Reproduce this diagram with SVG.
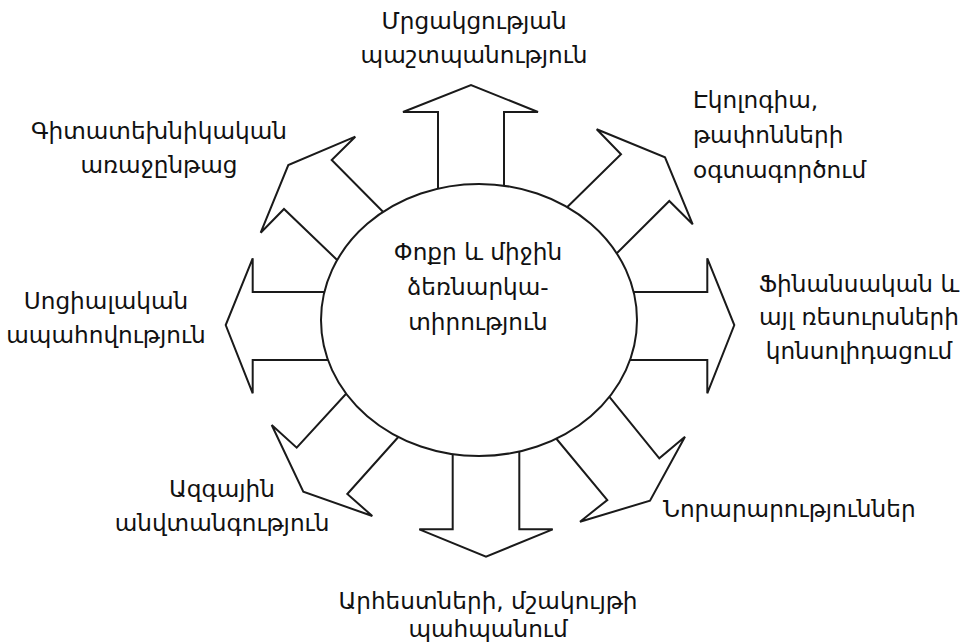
<svg xmlns="http://www.w3.org/2000/svg" width="962" height="644" viewBox="0 0 962 644">
<style>
.arrow{fill:#fff;stroke:#1a1a1a;stroke-width:2;stroke-linejoin:miter}
.hub{fill:#fff;stroke:#1a1a1a;stroke-width:2}
text{font-family:"DejaVu Sans","Noto Sans",sans-serif;font-size:23.2px;fill:#111}
.c{text-anchor:middle}
</style>
<rect width="962" height="644" fill="#fff"/>
<g id="connectors">
<polygon class="arrow" points="438,205 438,112 403,112 471,85 538,112 504,112 504,205"/>
<polygon class="arrow" points="404,233 331.7,160 355.3,136.7 288.3,165 260.7,232.7 284,209 358,280"/>
<polygon class="arrow" points="548,226 621,154.3 596.7,129.3 665,157.3 692.7,224.3 669.3,201 599,271"/>
<polygon class="arrow" points="345,292 252.7,292 252.7,258.3 225.7,325 252.7,393.3 252.7,360 345,360"/>
<polygon class="arrow" points="615,292 707.3,292 707.3,258.3 734.3,325 707.3,393.3 707.3,360 615,360"/>
<polygon class="arrow" points="367,371 296.7,447.7 271.7,425 303.3,491.7 372.3,516 347.3,494 418,415"/>
<polygon class="arrow" points="452.7,435 452.7,529.3 419.3,529.3 486,556.7 552.7,529.3 519.3,529.3 519.3,435"/>
<polygon class="arrow" points="540,419 607.3,500 580,521.7 650,500.7 685,436.7 659.3,458.3 595,379"/>
</g>
<g id="center">
<ellipse class="hub" cx="479" cy="320" rx="158" ry="136"/>
<text class="c" x="478" y="260">Փոքր և միջին</text>
<text class="c" x="478" y="295">ձեռնարկա-</text>
<text class="c" x="478" y="330">տիրություն</text>
</g>
<g id="n-top">
<text class="c" x="474" y="29">Մրցակցության</text>
<text class="c" x="474" y="63">պաշտպանություն</text>
</g>
<g id="n-topright">
<text x="693" y="108">Էկոլոգիա,</text>
<text x="693" y="143">թափոնների</text>
<text x="693" y="178">օգտագործում</text>
</g>
<g id="n-topleft">
<text class="c" x="159" y="139">Գիտատեխնիկական</text>
<text class="c" x="159" y="173">առաջընթաց</text>
</g>
<g id="n-left">
<text class="c" x="106" y="309">Սոցիալական</text>
<text class="c" x="106" y="343">ապահովություն</text>
</g>
<g id="n-right">
<text class="c" x="859" y="292">Ֆինանսական և</text>
<text class="c" x="859" y="325">այլ ռեսուրսների</text>
<text class="c" x="859" y="359">կոնսոլիդացում</text>
</g>
<g id="n-bottomleft">
<text class="c" x="222" y="497">Ազգային</text>
<text class="c" x="222" y="531">անվտանգություն</text>
</g>
<g id="n-bottomright">
<text x="663" y="517">Նորարարություններ</text>
</g>
<g id="n-bottom">
<text class="c" x="488" y="609">Արհեստների, մշակույթի</text>
<text class="c" x="488" y="637">պահպանում</text>
</g>
</svg>
